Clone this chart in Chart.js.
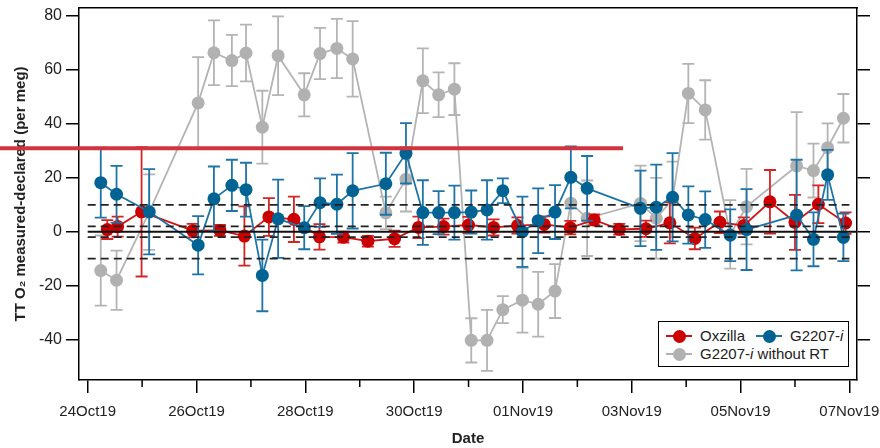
<!DOCTYPE html>
<html>
<head>
<meta charset="utf-8">
<script src="https://cdn.jsdelivr.net/npm/chart.js@4"></script>
<style>
  body { margin: 0; background: #fff; }
  #wrap { position: relative; width: 880px; height: 448px; }
  #legend { position: absolute; left: 658px; top: 321px; width: 189px; height: 44px;
            border: 1.5px solid #000; background: #fff; font-family: 'Liberation Sans', Arial, sans-serif;
            font-size: 15px; color: #222; }
  .item { position: absolute; height: 18px; line-height: 18px; white-space: nowrap; }
  .sym { position: absolute; top: 8px; width: 26px; height: 2px; }
  .dot { position: absolute; top: -5.5px; left: 6.5px; width: 13px; height: 13px; border-radius: 50%; }
  .lab { position: absolute; left: 34px; top: 0; }
</style>
</head>
<body>
<div id="wrap">
  <canvas id="myChart" width="880" height="448"></canvas>
  <div id="legend">
    <div class="item" style="left:7px;top:5px"><div class="sym" style="background:#cc1010"><div class="dot" style="background:#cc0000"></div></div><span class="lab">Oxzilla</span></div>
    <div class="item" style="left:97px;top:5px"><div class="sym" style="background:#1f74a6"><div class="dot" style="background:#006394"></div></div><span class="lab">G2207-<i>i</i></span></div>
    <div class="item" style="left:7px;top:23px"><div class="sym" style="background:#b1b1b1"><div class="dot" style="background:#b1b1b1"></div></div><span class="lab">G2207-<i>i</i> without RT</span></div>
  </div>
</div>
<script>
// days since 24Oct19 00:00
var tickDays = [0, 2, 4, 6, 8, 10, 12, 14];
var tickLabels = ["24Oct19", "26Oct19", "28Oct19", "30Oct19", "01Nov19", "03Nov19", "05Nov19", "07Nov19"];
var minorDays = [1, 3, 5, 7, 9, 11, 13];
var yTicks = [-40, -20, 0, 20, 40, 60, 80];

// G2207-i (and G2207-i without RT, same times)
var g2207Days = [0.24, 0.53, 1.13, 2.03, 2.32, 2.65, 2.91, 3.21, 3.50, 3.98, 4.27, 4.58, 4.87,
  5.48, 5.85, 6.16, 6.45, 6.74, 7.05, 7.34, 7.63, 7.99, 8.28, 8.59, 8.88, 9.18,
  10.16, 10.45, 10.75, 11.04, 11.35, 11.81, 12.11, 13.03, 13.34, 13.60, 13.89];
var g2207 = [18.2, 13.9, 7.4, -5.0, 12.2, 17.2, 15.6, -16.2, 4.8, 1.5, 10.8, 10.2, 15.2,
  17.8, 29.1, 7.1, 7.1, 7.1, 7.3, 8.1, 15.2, 0.0, 4.1, 7.3, 20.2, 16.1,
  8.7, 9.1, 12.8, 6.2, 4.5, -1.3, 0.8, 6.2, -2.8, 21.1, -2.1];
var g2207Err = [13, 10.5, 15.8, 10.8, 12, 9.5, 10, 13.3, 14.5, 8, 9, 11, 14,
  11.5, 11.2, 12, 8, 10, 8, 11, 4.6, 13, 12, 10, 11.5, 12,
  14, 15.8, 16.4, 10.6, 10.5, 9.6, 15, 20.5, 10, 9.3, 8.8];
var noRT = [-14.4, -18.0, 7.3, 47.8, 66.4, 63.5, 66.3, 38.8, 65.3, 50.8, 66.1, 68.0, 64.1,
  7.0, 19.5, 56.0, 50.8, 52.9, -40.3, -40.3, -28.9, -25.4, -26.9, -22.0, 10.6, 5.0,
  10.5, 5.0, 12.0, 51.3, 45.2, -1.0, 9.3, 24.4, 22.7, 31.2, 42.1];
var noRTErr = [13, 11, 14, 17, 12, 9.5, 10.5, 13.5, 14.6, 8, 9.5, 11, 14,
  6, 12, 12, 8.3, 9.6, 8.2, 11.3, 5, 12, 12, 10, 9, 14,
  14, 15, 14, 11, 11, 12.7, 14, 20, 10, 9, 9];

// Oxzilla
var oxDays = [0.36, 0.55, 0.99, 1.93, 2.43, 2.88, 3.33, 3.79, 4.26, 4.70, 5.15, 5.64, 6.08,
  6.54, 7.00, 7.46, 7.90, 8.39, 8.87, 9.31, 9.77, 10.26, 10.70, 11.16, 11.62, 12.06,
  12.54, 13.00, 13.43, 13.93];
var oxzilla = [0.8, 1.9, 7.4, 0.4, 0.5, -1.6, 5.5, 4.6, -1.9, -2.0, -3.5, -2.6, 1.6,
  1.9, 2.5, 1.6, 2.3, 2.7, 1.5, 4.4, 0.9, 1.1, 3.3, -2.5, 3.5, 2.3,
  11.1, 3.5, 10.2, 3.2];
var oxzillaErr = [3.5, 3.7, 24, 2.5, 2, 11, 7, 8.4, 4.7, 2, 2, 3, 4,
  3, 3, 3, 3, 3, 2.5, 2, 2, 3, 7.6, 4, 4, 3,
  11.8, 10.2, 7, 4];

var dashLevels = [10, 2, -2, -10];
var redMarkValue = 31;
var redMarkEnd = 9.84;

var xMin = -0.16, xMax = 14.14, yMin = -55, yMax = 83;
var font = "'Liberation Sans', Arial, sans-serif";

function pts(xs, ys) {
  return xs.map(function (x, i) { return { x: x, y: ys[i] }; });
}

var datasets = [
  { label: "G2207-i", data: pts(g2207Days, g2207), errors: g2207Err, errorColor: "#1f74a6",
    borderColor: "#1f74a6", backgroundColor: "#006394", pointBorderColor: "#006394" },
  { label: "Oxzilla", data: pts(oxDays, oxzilla), errors: oxzillaErr, errorColor: "#d42424",
    borderColor: "#d01414", backgroundColor: "#cc0000", pointBorderColor: "#cc0000" },
  { label: "G2207-i without RT", data: pts(g2207Days, noRT), errors: noRTErr, errorColor: "#b4b4b4",
    borderColor: "#b4b4b4", backgroundColor: "#b1b1b1", pointBorderColor: "#b1b1b1" }
];
datasets.forEach(function (d) {
  d.borderWidth = 1.8;
  d.pointRadius = 6.5;
  d.pointBorderWidth = 0;
  d.tension = 0;
  d.xAxisID = "x";
  d.yAxisID = "y";
});

dashLevels.forEach(function (v) {
  datasets.unshift({ data: [{ x: tickDays[0], y: v }, { x: tickDays[tickDays.length - 1], y: v }],
    borderColor: "#222", borderWidth: 1.8, borderDash: [8, 5], pointRadius: 0, xAxisID: "x", yAxisID: "y" });
});
datasets.unshift({ data: [{ x: tickDays[0], y: 0 }, { x: xMax, y: 0 }],
  borderColor: "#111", borderWidth: 1.8, pointRadius: 0, xAxisID: "x", yAxisID: "y" });

var errorBars = {
  id: "errorBars",
  beforeDatasetDraw: function (chart, args) {
    var ds = chart.data.datasets[args.index];
    if (!ds.errors) return;
    var xs = chart.scales.x, ys = chart.scales.y, ctx = chart.ctx;
    ctx.save();
    ctx.strokeStyle = ds.errorColor;
    ctx.lineWidth = 1.8;
    ds.data.forEach(function (p, i) {
      var px = xs.getPixelForValue(p.x);
      var top = ys.getPixelForValue(p.y + ds.errors[i]);
      var bot = ys.getPixelForValue(p.y - ds.errors[i]);
      ctx.beginPath();
      ctx.moveTo(px, top); ctx.lineTo(px, bot);
      ctx.moveTo(px - 6, top); ctx.lineTo(px + 6, top);
      ctx.moveTo(px - 6, bot); ctx.lineTo(px + 6, bot);
      ctx.stroke();
    });
    ctx.restore();
  }
};

var extras = {
  id: "extras",
  afterDraw: function (chart) {
    var ctx = chart.ctx, xs = chart.scales.x, ys = chart.scales.y;
    var b = chart.chartArea.bottom;
    ctx.save();
    // minor ticks
    ctx.strokeStyle = "#000";
    ctx.lineWidth = 1.5;
    minorDays.forEach(function (d) {
      var px = xs.getPixelForValue(d);
      ctx.beginPath(); ctx.moveTo(px, b); ctx.lineTo(px, b + 7); ctx.stroke();
    });
    // stray red marker line
    ctx.strokeStyle = "#d2343f";
    ctx.lineWidth = 4;
    var yy = ys.getPixelForValue(redMarkValue);
    ctx.beginPath(); ctx.moveTo(0, yy); ctx.lineTo(xs.getPixelForValue(redMarkEnd), yy); ctx.stroke();
    ctx.restore();
  }
};

var axisBorder = { color: "#000", width: 1.5 };
function noPad(s) { s.paddingTop = 0; s.paddingBottom = 0; s.paddingLeft = 0; s.paddingRight = 0; }

var ctx = document.getElementById("myChart").getContext("2d");
var myChart = new Chart(ctx, {
  type: "line",
  data: { datasets: datasets },
  plugins: [errorBars, extras],
  options: {
    responsive: false,
    animation: false,
    devicePixelRatio: 1,
    layout: { padding: 0 },
    plugins: { legend: { display: false }, tooltip: { enabled: false } },
    scales: {
      x: {
        type: "linear", position: "bottom", min: xMin, max: xMax,
        afterBuildTicks: function (s) { s.ticks = tickDays.map(function (v) { return { value: v }; }); },
        afterFit: function (s) { s.height = 68; noPad(s); },
        ticks: { callback: function (v, i) { return tickLabels[i]; }, autoSkip: false, maxRotation: 0,
                 padding: 10, color: "#222", font: { family: font, size: 15 } },
        grid: { drawOnChartArea: false, drawTicks: true, tickLength: 13, color: "#000", lineWidth: 1.5 },
        border: axisBorder,
        title: { display: true, text: "Date", color: "#222", padding: { top: 0, bottom: 0 },
                 font: { family: font, size: 15, weight: "bold" } }
      },
      xTop: {
        type: "linear", position: "top", min: xMin, max: xMax,
        ticks: { display: false },
        grid: { drawOnChartArea: false, drawTicks: false },
        border: axisBorder,
        afterFit: function (s) { s.height = 8; noPad(s); }
      },
      y: {
        type: "linear", position: "left", min: yMin, max: yMax,
        afterBuildTicks: function (s) { s.ticks = yTicks.map(function (v) { return { value: v }; }); },
        afterFit: function (s) { s.width = 79; noPad(s); },
        ticks: { padding: 4, color: "#222", font: { family: font, size: 16 } },
        grid: { drawOnChartArea: false, drawTicks: true, tickLength: 13, color: "#000", lineWidth: 1.5 },
        border: axisBorder,
        title: { display: true, text: "TT O\u2082 measured-declared (per meg)", color: "#222",
                 padding: { top: 12, bottom: 0 }, font: { family: font, size: 15, weight: "bold" } }
      },
      y2: {
        type: "linear", position: "right", min: yMin, max: yMax,
        afterBuildTicks: function (s) { s.ticks = yTicks.map(function (v) { return { value: v }; }); },
        afterFit: function (s) { s.width = 23; noPad(s); },
        ticks: { display: false },
        grid: { drawOnChartArea: false, drawTicks: true, tickLength: 13, color: "#000", lineWidth: 1.5 },
        border: axisBorder
      }
    }
  }
});
</script>
</body>
</html>
